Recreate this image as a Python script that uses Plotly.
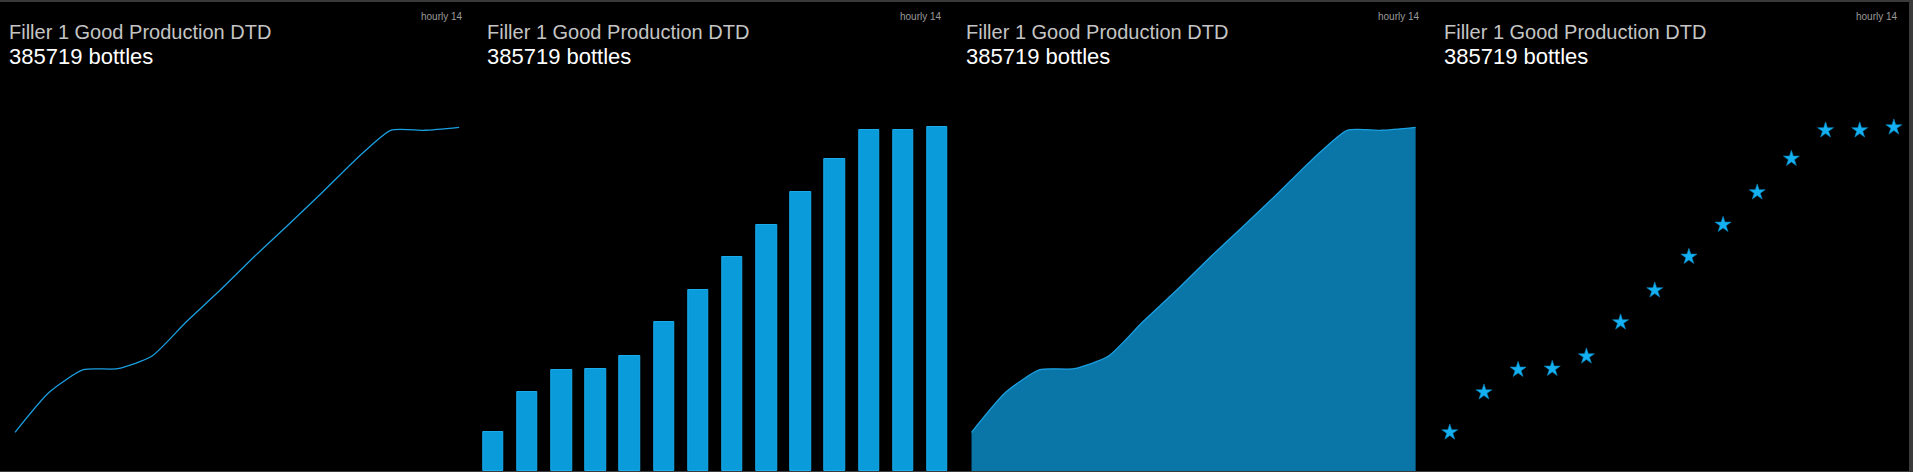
import plotly.graph_objects as go

# ---- data ----
hours = list(range(14))
production = [43400, 88300, 113700, 114800, 128700, 166900, 202800,
              240500, 276400, 312800, 350500, 382400, 382400, 385719]
panel_title = "Filler 1 Good Production DTD"
panel_value = "385719 bottles"
panel_badge = "hourly 14"

W, H = 1913, 472
LINE_C = "#1a9fe0"
BAR_FILL = "#0a9bdb"
BAR_EDGE = "#19abec"
AREA_FILL = "#0a76a8"
STAR_C = "#14b0f2"
SMOOTH = 0.6

fig = go.Figure()

n_panels = 4
for k in range(n_panels):
    xa = "x" if k == 0 else f"x{k+1}"
    ya = "y" if k == 0 else f"y{k+1}"
    if k == 0:
        fig.add_trace(go.Scatter(x=hours, y=production, mode="lines",
                                 line=dict(color=LINE_C, width=1.3, shape="spline",
                                           smoothing=SMOOTH),
                                 xaxis=xa, yaxis=ya, hoverinfo="skip"))
    elif k == 1:
        fig.add_trace(go.Bar(x=hours, y=production, width=0.6,
                             marker=dict(color=BAR_FILL, line=dict(color=BAR_EDGE, width=1)),
                             xaxis=xa, yaxis=ya, hoverinfo="skip"))
    elif k == 2:
        fig.add_trace(go.Scatter(x=hours, y=production, mode="lines", fill="tozeroy",
                                 fillcolor=AREA_FILL,
                                 line=dict(color=LINE_C, width=1.3, shape="spline",
                                           smoothing=SMOOTH),
                                 xaxis=xa, yaxis=ya, hoverinfo="skip"))
    else:
        fig.add_trace(go.Scatter(x=hours, y=production, mode="markers",
                                 marker=dict(symbol="star", size=12, color=STAR_C,
                                             line=dict(width=0.6, color="#0a86c0")),
                                 xaxis=xa, yaxis=ya, hoverinfo="skip"))

layout = dict(
    width=W, height=H,
    margin=dict(l=0, r=0, t=0, b=0),
    paper_bgcolor="#3a3a3a",
    plot_bgcolor="rgba(0,0,0,0)",
    showlegend=False,
    bargap=0,
)
for k in range(n_panels):
    sfx = "" if k == 0 else str(k + 1)
    layout[f"xaxis{sfx}"] = dict(domain=[k / 4, (k + 1) / 4], range=[-0.44, 13.56],
                                 visible=False, fixedrange=True,
                                 anchor="y" if k == 0 else f"y{k+1}")
    layout[f"yaxis{sfx}"] = dict(domain=[1 / H, 1], range=[0, 528600],
                                 visible=False, fixedrange=True,
                                 anchor="x" if k == 0 else f"x{k+1}")
fig.update_layout(**layout)

# black dashboard background
fig.add_shape(type="rect", xref="paper", yref="paper",
              x0=0, x1=1909 / W, y0=1 / H, y1=1 - 2 / H,
              fillcolor="black", line=dict(width=0), layer="below")

pw = W / 4
for k in range(n_panels):
    left = k * pw
    fig.add_annotation(xref="paper", yref="paper", x=(left + 7) / W, y=1 - 32 / H,
                       xanchor="left", yanchor="middle", showarrow=False,
                       text=panel_title,
                       font=dict(family="Liberation Sans, Arial", size=20, color="#c4c4c4"))
    fig.add_annotation(xref="paper", yref="paper", x=(left + 7) / W, y=1 - 56.5 / H,
                       xanchor="left", yanchor="middle", showarrow=False,
                       text=panel_value,
                       font=dict(family="Liberation Sans, Arial", size=22, color="#ffffff"))
    fig.add_annotation(xref="paper", yref="paper", x=(left + pw - 13) / W, y=1 - 16.5 / H,
                       xanchor="right", yanchor="middle", showarrow=False,
                       text=panel_badge,
                       font=dict(family="Liberation Sans, Arial", size=10, color="#9a9a9a"))

fig.write_html("out.html", config={"displayModeBar": False},
               post_script="document.body.style.margin='0';document.body.style.overflow='hidden';")
